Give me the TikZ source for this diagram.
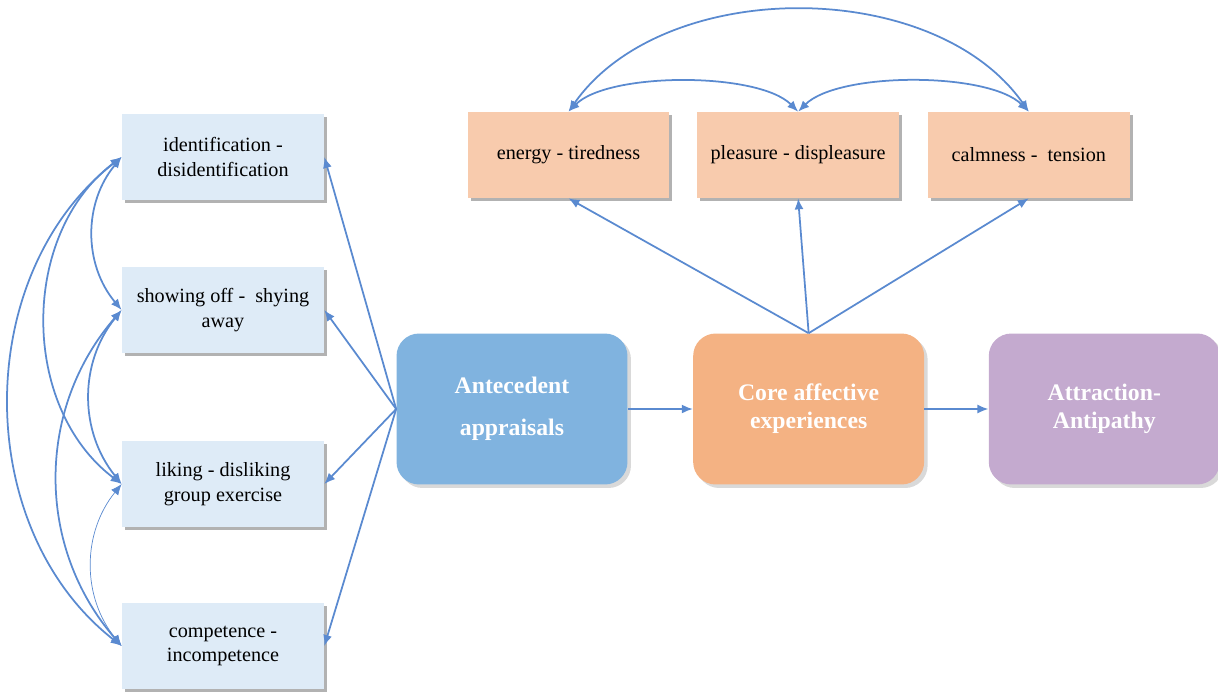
\documentclass[tikz,border=0pt]{standalone}
\usepackage{fontspec}
\setmainfont{Liberation Serif}
\usetikzlibrary{positioning,arrows.meta,shadows}
\definecolor{cuefill}{HTML}{DEEBF7}
\definecolor{moodfill}{HTML}{F8CBAD}
\definecolor{appr}{HTML}{80B3DF}
\definecolor{corefill}{HTML}{F4B283}
\definecolor{attr}{HTML}{C4AACF}
\definecolor{link}{HTML}{5A8AD0}
\tikzset{
  cue/.style={fill=#1, minimum width=4.04cm, minimum height=1.72cm, align=center, inner sep=2pt,
    font=\fontsize{11.5}{14}\selectfont, drop shadow={shadow xshift=0.06cm, shadow yshift=-0.06cm, fill=black!60, opacity=0.5}},
  main/.style={fill=#1, rounded corners=0.45cm, minimum width=4.62cm, minimum height=3.02cm, align=center, text=white,
    font=\fontsize{13.5}{16}\selectfont\bfseries, drop shadow={shadow xshift=0.07cm, shadow yshift=-0.07cm, fill=black!50, opacity=0.3}},
  arr/.style={-{Latex[length=2.2mm,width=1.8mm]}, line width=1pt, link},
  tw/.style={{Latex[length=2.2mm,width=1.8mm]}-{Latex[length=2.2mm,width=1.8mm]}, line width=1pt, link},
}
\begin{document}
\begin{tikzpicture}[x=0.02cm, y=0.02cm]
  \useasboundingbox (0,-691) rectangle (1218,0);
  % appraisal dimensions (left column)
  \node[cue=cuefill] (b1) at (223,-157) {identification -\\disidentification};
  \node[cue=cuefill] (b2) at (223,-310) {showing off -\ \ shying\\away};
  \node[cue=cuefill] (b3) at (223,-484) {liking - disliking\\group exercise};
  \node[cue=cuefill] (b4) at (223,-646) {competence -\\incompetence};
  % core affect dimensions (top row)
  \node[cue=moodfill] (e1) at (568.5,-155) {energy - tiredness};
  \node[cue=moodfill, right=0.54cm of e1] (e2) {pleasure - displeasure};
  \node[cue=moodfill, right=0.56cm of e2] (e3) {calmness -\ \ tension};
  % main chain
  \node[main=appr] (ant) at (512,-409) {Antecedent\\[8pt]appraisals};
  \node[main=corefill, right=1.3cm of ant] (core) {Core affective\\experiences};
  \node[main=attr, right=1.28cm of core] (att) {Attraction-\\Antipathy};
  \foreach \a in {b1,b2,b3,b4} \draw[arr] (ant.west) -- (\a.east);
  \foreach \a in {e1,e2,e3} \draw[arr] (core.north) -- (\a.south);
  \draw[arr] (ant) -- (core);
  \draw[arr] (core) -- (att);
  % correlations
  \foreach \a/\b/\t in {b1/b2/40,b1/b3/53,b1/b4/52,b2/b3/39,b2/b4/41}
    \draw[tw] (\a.west) to[bend right=\t] (\b.west);
  \draw[tw, line width=0.4pt] (b3.west) to[bend right=39] (b4.west);
  \draw[tw] (e1.north) to[out=45,in=135,looseness=0.63] (e2.north);
  \draw[tw] (e2.north) to[out=45,in=135,looseness=0.63] (e3.north);
  \draw[tw] (e1.north) to[out=55,in=125,looseness=0.92] (e3.north);
\end{tikzpicture}
\end{document}
